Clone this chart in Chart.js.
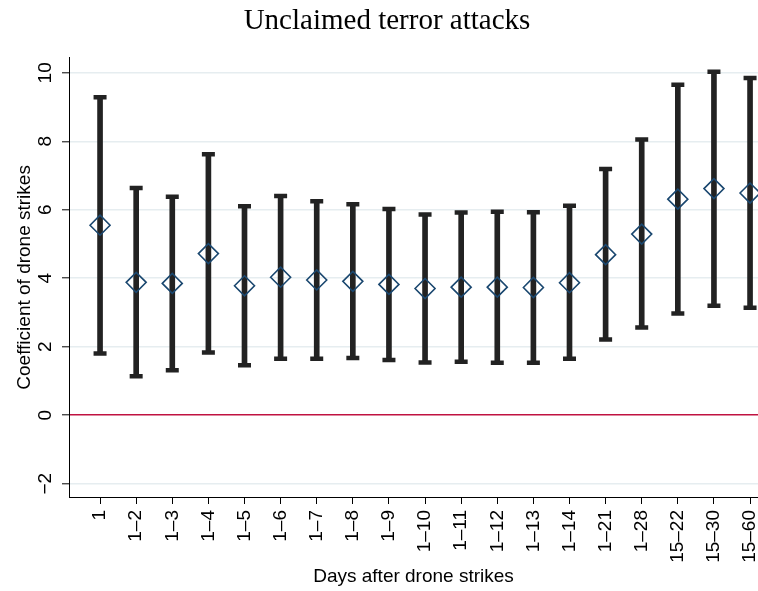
<!DOCTYPE html>
<html>
<head>
<meta charset="utf-8">
<script src="https://cdn.jsdelivr.net/npm/chart.js@4.4.1/dist/chart.umd.min.js"></script>
<style>
  html, body { margin: 0; padding: 0; background: #fff; }
  #wrap { width: 758px; height: 591px; }
</style>
</head>
<body>
<div id="wrap"><canvas id="coef-chart" width="758" height="591"></canvas></div>
<script>
// Ventanas de días después del ataque con drones
const categories = ['1', '1–2', '1–3', '1–4', '1–5', '1–6', '1–7', '1–8', '1–9', '1–10',
    '1–11', '1–12', '1–13', '1–14', '1–21', '1–28', '15–22', '15–30', '15–60'];

// Coeficientes estimados (rombos)
const coefValues = [5.55, 3.88, 3.85, 4.72, 3.78, 4.03, 3.95, 3.91, 3.82, 3.70,
    3.74, 3.74, 3.73, 3.87, 4.69, 5.29, 6.31, 6.62, 6.49];

// Intervalos de confianza
const ciLower = [1.80, 1.14, 1.31, 1.83, 1.46, 1.65, 1.65, 1.67, 1.61, 1.54,
    1.56, 1.53, 1.53, 1.65, 2.21, 2.56, 2.97, 3.20, 3.14];
const ciUpper = [9.29, 6.64, 6.38, 7.62, 6.10, 6.40, 6.25, 6.16, 6.02, 5.86,
    5.92, 5.94, 5.93, 6.12, 7.19, 8.05, 9.65, 10.03, 9.85];

const yTicks = [-2, 0, 2, 4, 6, 8, 10];

const barColor = '#222222';
const diamondColor = '#1a476f';
const zeroColor = '#c01241';
const gridColor = '#e6edf0';
const sansFont = "'Liberation Sans', Arial, sans-serif";

const ctx = document.getElementById('coef-chart').getContext('2d');

new Chart(ctx, {
    data: {
        datasets: [
            {
                type: 'bar',
                data: categories.map((c, i) => ({ x: i, y: [ciLower[i], ciUpper[i]] })),
                backgroundColor: barColor,
                borderWidth: 0,
                barThickness: 5,
                order: 3
            },
            {
                type: 'scatter',
                data: categories.map((c, i) => ({ x: i, y: ciLower[i] })),
                pointStyle: 'line',
                radius: 6.5,
                borderWidth: 4.5,
                borderColor: barColor,
                order: 2
            },
            {
                type: 'scatter',
                data: categories.map((c, i) => ({ x: i, y: ciUpper[i] })),
                pointStyle: 'line',
                radius: 6.5,
                borderWidth: 4.5,
                borderColor: barColor,
                order: 2
            },
            {
                type: 'scatter',
                data: categories.map((c, i) => ({ x: i, y: coefValues[i] })),
                pointStyle: 'rectRot',
                radius: 10,
                borderWidth: 1.6,
                borderColor: diamondColor,
                backgroundColor: 'rgba(0,0,0,0)',
                order: 1
            }
        ]
    },
    options: {
        responsive: false,
        animation: false,
        events: [],
        layout: {
            autoPadding: false,
            padding: { top: 4, right: 0, left: 16, bottom: 0 }
        },
        plugins: {
            legend: { display: false },
            tooltip: { enabled: false },
            title: {
                display: true,
                text: 'Unclaimed terror attacks',
                color: '#000',
                font: { family: "'Liberation Serif', 'Times New Roman', serif", size: 29, weight: 'normal' },
                padding: { top: 0, bottom: 19 }
            }
        },
        scales: {
            x: {
                type: 'linear',
                offset: false,
                min: -0.86,
                max: 18.22,
                afterBuildTicks: scale => {
                    scale.ticks = categories.map((c, i) => ({ value: i }));
                },
                afterFit: scale => {
                    // el gráfico original llega hasta el borde derecho
                    scale.height = 94;
                    scale.paddingRight = 0;
                    scale.paddingLeft = 0;
                },
                ticks: {
                    autoSkip: false,
                    includeBounds: false,
                    stepSize: 1,
                    minRotation: 90,
                    maxRotation: 90,
                    padding: 6,
                    color: '#000',
                    font: { family: sansFont, size: 19 },
                    callback: v => categories[v]
                },
                grid: {
                    offset: false,
                    drawOnChartArea: false,
                    drawTicks: true,
                    tickLength: 7,
                    tickColor: '#000',
                    tickWidth: 1
                },
                border: { color: '#000', width: 1 },
                title: {
                    display: true,
                    text: 'Days after drone strikes',
                    color: '#000',
                    font: { family: sansFont, size: 19 },
                    padding: { top: 0, bottom: 3 }
                }
            },
            y: {
                type: 'linear',
                min: -2.39,
                max: 10.44,
                afterBuildTicks: scale => {
                    scale.ticks = yTicks.map(v => ({ value: v }));
                },
                afterFit: scale => { scale.width = 53; },
                ticks: {
                    autoSkip: false,
                    includeBounds: false,
                    minRotation: 90,
                    maxRotation: 90,
                    crossAlign: 'center',
                    padding: 5,
                    color: '#000',
                    font: { family: sansFont, size: 19 },
                    callback: v => (v < 0 ? '\u2212' + Math.abs(v) : String(v))
                },
                grid: {
                    color: c => (c.tick && c.tick.value === 0 ? zeroColor : gridColor),
                    lineWidth: 1.6,
                    tickLength: 7,
                    tickColor: '#000',
                    tickWidth: 1
                },
                border: { color: '#000', width: 1 },
                title: {
                    display: true,
                    text: 'Coefficient of drone strikes',
                    color: '#000',
                    font: { family: sansFont, size: 19 },
                    padding: { top: -3, bottom: 0 }
                }
            }
        }
    }
});
</script>
</body>
</html>
